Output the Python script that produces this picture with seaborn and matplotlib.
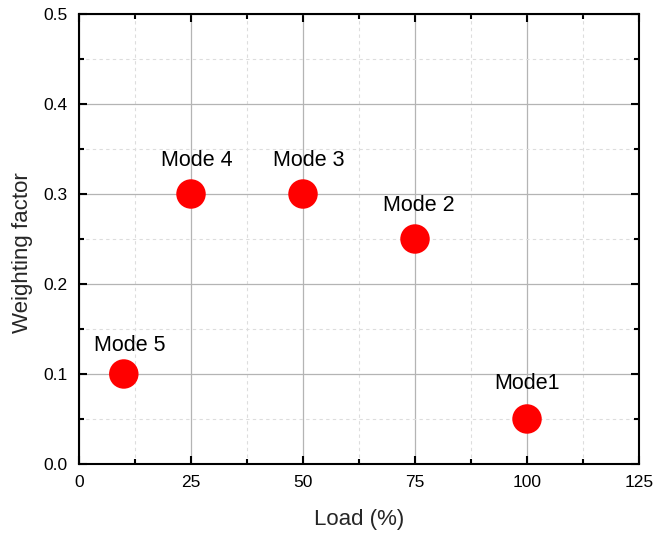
import matplotlib
matplotlib.use("Agg")
import matplotlib.pyplot as plt
import seaborn as sns
import pandas as pd
from matplotlib.ticker import MultipleLocator

# Operating modes: load share and weighting factor
modes = ["Mode 5", "Mode 4", "Mode 3", "Mode 2", "Mode1"]
load = [10, 25, 50, 75, 100]
weight = [0.1, 0.3, 0.3, 0.25, 0.05]
# label offsets from each point, in points
label_dx = [4, 4, 4, 3, 0]
label_dy = [20.4, 24.4, 24.4, 24.4, 25.8]

sns.set_style("ticks")
plt.rcParams["font.family"] = ["Liberation Sans", "DejaVu Sans"]

df = pd.DataFrame({"mode": modes, "load": load, "weight": weight})

fig = plt.figure(figsize=(6.54, 5.33), dpi=100)
ax = fig.add_axes([0.1208, 0.1295, 0.8563, 0.8442])

ax.set_axisbelow(True)
sns.scatterplot(data=df, x="load", y="weight", ax=ax, s=450, color="#ff0000",
                edgecolor="none", legend=False, zorder=3)

for m, x, y, dx, dy in zip(modes, load, weight, label_dx, label_dy):
    ax.annotate(m, (x, y), xytext=(dx, dy), textcoords="offset points",
                ha="center", va="center", fontsize=15.5, color="black")

ax.set_xlim(0, 125)
ax.set_ylim(0, 0.5)
ax.xaxis.set_major_locator(MultipleLocator(25))
ax.xaxis.set_minor_locator(MultipleLocator(12.5))
ax.yaxis.set_major_locator(MultipleLocator(0.1))
ax.yaxis.set_minor_locator(MultipleLocator(0.05))
ax.set_yticklabels([f"{v:.1f}" for v in ax.get_yticks()])

ax.grid(which="major", color="#b4b4b4", linewidth=0.9, linestyle="-")
ax.grid(which="minor", color="#dddddd", linewidth=0.8, linestyle=(0, (3, 3)))

for s in ax.spines.values():
    s.set_linewidth(1.5)
    s.set_color("black")

ax.tick_params(which="both", direction="in", top=True, right=True, width=1.5,
               labelsize=12.5, colors="black")
ax.tick_params(which="major", length=6, pad=8)
ax.tick_params(which="minor", length=3.5)

ax.set_xlabel("Load (%)", fontsize=16)
ax.set_ylabel("Weighting factor", fontsize=16)
ax.xaxis.set_label_coords(0.5, -0.1)
ax.yaxis.set_label_coords(-0.082, 0.47)

fig.savefig("out.png", dpi=100)
